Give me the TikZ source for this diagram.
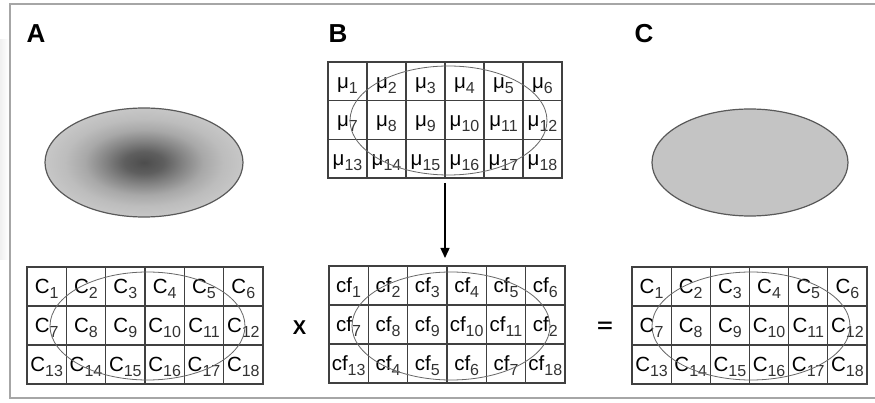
\documentclass[tikz,border=0pt]{standalone}
\usepackage{fontspec}
\setmainfont{Liberation Sans}
\usetikzlibrary{arrows.meta,shapes.geometric,calc}
\pgfdeclareradialshading{spot}{\pgfpoint{0bp}{0bp}}{color(0bp)=(black!70); color(5bp)=(black!63); color(10bp)=(black!48); color(15bp)=(black!34); color(20bp)=(black!26); color(25bp)=(black!22); color(50bp)=(black!22)}
\newcommand\subnum[1]{\raisebox{-5pt}{\fontsize{16}{16}\selectfont\color{black!80}#1}}
\newcommand\mkgrid[7]{%
  \node[gridbox, minimum width=#4pt, minimum height=#5pt, anchor=north west] (#1) at (#2,#3) {};
  \foreach \k in {1,...,5}{\draw[gridline] ($(#1.north west)!\k/6!(#1.north east)$) -- ($(#1.south west)!\k/6!(#1.south east)$);}
  \foreach \k in {1,2}{\draw[gridline] ($(#1.north west)!\k/3!(#1.south west)$) -- ($(#1.north east)!\k/3!(#1.south east)$);}
  \foreach \s [count=\i from 0] in {#7}{%
    \pgfmathtruncatemacro\myr{floor(\i/6)}%
    \pgfmathtruncatemacro\myc{mod(\i,6)}%
    \node[celltext] (#1-\i) at ({#2+(\myc+0.5)*#4/6},{#3+(\myr+0.5)*#5/3+7}) {#6\subnum{\s}};
  }%
}
\begin{document}
\begin{tikzpicture}[x=1pt,y=-1pt,
  gridbox/.style={rectangle, draw=black!75, line width=1.2pt, inner sep=0, outer sep=0},
  gridline/.style={draw=black!75, line width=1.2pt},
  celltext/.style={anchor=base, inner sep=0, font=\fontsize{20.5}{20.5}\selectfont},
  overlay ellipse/.style={ellipse, draw=black!60, line width=0.8pt, inner sep=0, outer sep=0},
  blob/.style={ellipse, draw=black!65, line width=1.2pt, inner sep=0, outer sep=0},
  panel label/.style={anchor=base, inner sep=0, font=\fontsize{26}{26}\selectfont\bfseries},
  op/.style={inner sep=0, font=\fontsize{20}{20}\selectfont\bfseries},
  arrowline/.style={-{Triangle[length=10pt,width=9pt]}, line width=1.4pt, black}
]
\useasboundingbox (0,0) rectangle (875,403);
\fill[white] (0,0) rectangle (875,403);
\shade[left color=black!6, right color=white] (0,40) rectangle (9,260);
\draw[black!35, line width=1.5pt] (10,4) rectangle (890,398);

% panel labels
\node[panel label] (lA) at (36,43) {A};
\node[panel label] (lB) at (338,43) {B};
\node[panel label] (lC) at (644,43) {C};

% top ellipses
\node[blob, shading=spot, minimum width=198pt, minimum height=109pt] (blobA) at (144,162.5) {};
\node[blob, fill=black!23, minimum width=196pt, minimum height=107pt] (blobC) at (750,162.5) {};

% grids
\mkgrid{gB}{328}{62}{234}{116}{μ}{1,2,3,4,5,6,7,8,9,10,11,12,13,14,15,16,17,18}
\mkgrid{gA}{27}{267}{236}{117}{C}{1,2,3,4,5,6,7,8,9,10,11,12,13,14,15,16,17,18}
\mkgrid{gM}{329}{266}{236}{117}{cf}{1,2,3,4,5,6,7,8,9,10,11,2,13,4,5,6,7,18}
\mkgrid{gC}{632}{267}{235}{117}{C}{1,2,3,4,5,6,7,8,9,10,11,12,13,14,15,16,17,18}

% ellipses over grids
\node[overlay ellipse, minimum width=197pt, minimum height=109pt] (eB) at (448.5,120.5) {};
\node[overlay ellipse, minimum width=195pt, minimum height=108pt] (eA) at (147.5,326) {};
\node[overlay ellipse, minimum width=198pt, minimum height=108pt] (eM) at (451,326) {};
\node[overlay ellipse, minimum width=198pt, minimum height=108pt] (eC) at (751,326) {};

% operators
\node[op] (times) at (299.5,327.5) {X};
\node[op] (equals) at (605,327) {\scalebox{1.35}[1]{=}};

% arrow
\draw[arrowline, shorten <=5pt, shorten >=8pt] (gB.south) -- (gB.south |- gM.north);
\end{tikzpicture}
\end{document}
